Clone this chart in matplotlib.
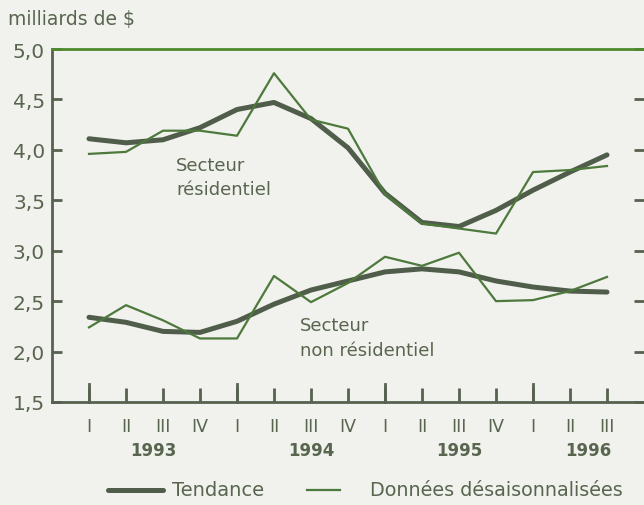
import numpy as np
import matplotlib.pyplot as plt
from matplotlib.lines import Line2D

plt.rcParams['font.family'] = ['DejaVu Sans']

quarters = ['I', 'II', 'III', 'IV', 'I', 'II', 'III', 'IV',
            'I', 'II', 'III', 'IV', 'I', 'II', 'III']
years = ['1993', '1994', '1995', '1996']
year_pos = [1.75, 6.0, 10.0, 13.5]

# residential sector
res_trend = [4.11, 4.07, 4.10, 4.22, 4.40, 4.47, 4.31, 4.02,
             3.57, 3.28, 3.24, 3.40, 3.60, 3.78, 3.95]
res_data = [3.96, 3.98, 4.19, 4.19, 4.14, 4.76, 4.30, 4.21,
            3.56, 3.27, 3.22, 3.17, 3.78, 3.80, 3.84]
# non-residential sector
nonres_trend = [2.34, 2.29, 2.20, 2.19, 2.30, 2.47, 2.61, 2.70,
                2.79, 2.82, 2.79, 2.70, 2.64, 2.60, 2.59]
nonres_data = [2.24, 2.46, 2.31, 2.13, 2.13, 2.75, 2.49, 2.68,
               2.94, 2.85, 2.98, 2.50, 2.51, 2.60, 2.74]

bg = '#f1f1ed'
txt = '#58654f'
axc = '#56624f'
thick_c = '#4f5d4a'
thin_c = '#4d7a3c'

fig = plt.figure(figsize=(6.44, 5.06), dpi=100, facecolor=bg)
ax = fig.add_axes([52/644, 1 - 403/506, 592/644, 353/506])
ax.set_facecolor(bg)

x = np.arange(len(quarters))
ax.plot(x, res_trend, color=thick_c, lw=3.6, solid_capstyle='round', zorder=3)
ax.plot(x, res_data, color=thin_c, lw=1.6, zorder=4)
ax.plot(x, nonres_trend, color=thick_c, lw=3.6, solid_capstyle='round', zorder=3)
ax.plot(x, nonres_data, color=thin_c, lw=1.6, zorder=4)

ax.set_xlim(-1, 15)
ax.set_ylim(1.5, 5.0)

for s in ['left', 'bottom']:
    ax.spines[s].set_color(axc)
    ax.spines[s].set_linewidth(2)
ax.spines['top'].set_color('#4f8a2e')
ax.spines['top'].set_linewidth(2)
ax.spines['right'].set_visible(False)

yt = [1.5, 2.0, 2.5, 3.0, 3.5, 4.0, 4.5, 5.0]
ax.set_yticks(yt)
ax.set_yticklabels([f'{v:.1f}'.replace('.', ',') for v in yt])
ax.tick_params(axis='y', which='both', direction='in', length=7, width=2,
               color=axc, labelcolor=txt, labelsize=14.5, pad=5,
               right=True, labelright=False)

ax.set_xticks(x)
ax.set_xticklabels(quarters)
ax.tick_params(axis='x', direction='in', length=10, width=2, color=axc,
               labelcolor=txt, labelsize=12.5, pad=11)
# taller ticks at start of each year
for i in range(0, len(quarters), 4):
    ax.plot([i, i], [1.5, 1.68], color=axc, lw=2, clip_on=False, zorder=5)

for yp, yr in zip(year_pos, years):
    ax.text(yp, 1.5 - 0.48, yr, ha='center', va='center', color=txt,
            fontsize=12, fontweight='bold')

ax.text(2.35, 3.73, 'Secteur\nrésidentiel', color=txt, fontsize=13,
        ha='left', va='center', linespacing=1.45)
ax.text(5.7, 2.14, 'Secteur\nnon résidentiel', color=txt, fontsize=13,
        ha='left', va='center', linespacing=1.45)

fig.text(8/644, 1 - 19/506, 'milliards de $', color=txt, fontsize=13.5,
         ha='left', va='center')

# legend
ly = 1 - 491/506
fig.add_artist(Line2D([108/644, 163/644], [ly, ly], color=thick_c, lw=3.6,
                      solid_capstyle='round'))
fig.text(172/644, ly, 'Tendance', color=txt, fontsize=14, ha='left', va='center')
fig.add_artist(Line2D([307/644, 340/644], [ly, ly], color=thin_c, lw=1.6))
fig.text(370/644, ly, 'Données désaisonnalisées', color=txt, fontsize=13.8,
         ha='left', va='center')

fig.savefig('out.png', dpi=100, facecolor=bg)
